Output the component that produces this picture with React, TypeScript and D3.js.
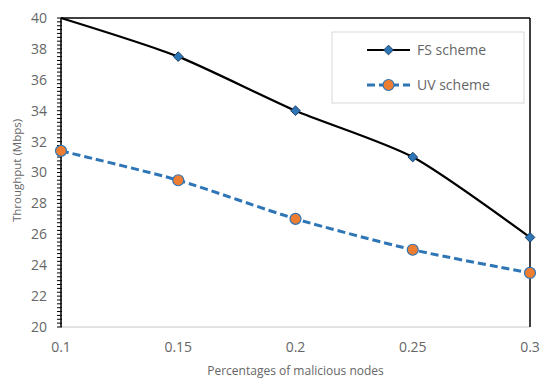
import { useEffect, useRef } from "react";
import * as d3 from "d3";

const xValues = [0.1, 0.15, 0.2, 0.25, 0.3];
const fsValues = [40, 37.5, 34, 31, 25.8];
const uvValues = [31.4, 29.5, 27, 25, 23.5];
const yTicks = [20, 22, 24, 26, 28, 30, 32, 34, 36, 38, 40];
const xTickLabels = ["0.1", "0.15", "0.2", "0.25", "0.3"];
const seriesNames = ["FS scheme", "UV scheme"];

const FONT = "'Open Sans', 'Liberation Sans', sans-serif";
const GRAY = "#666666";
const BLUE = "#2E75B6";
const ORANGE = "#ED7D31";

export default function App() {
  const svgRef = useRef<SVGSVGElement | null>(null);

  useEffect(() => {
    if (!svgRef.current) return;
    const width = 550;
    const height = 388;
    const margin = { top: 18, right: 20, bottom: 61, left: 61 };
    const w = width - margin.left - margin.right;
    const h = height - margin.top - margin.bottom;

    const svg = d3.select(svgRef.current);
    svg.selectAll("*").remove();
    svg.attr("width", width).attr("height", height);
    svg.append("rect").attr("width", width).attr("height", height).attr("fill", "#fff");

    const g = svg.append("g").attr("transform", `translate(${margin.left},${margin.top})`);

    const x = d3.scaleLinear().domain([0.1, 0.3]).range([0, w]);
    const y = d3.scaleLinear().domain([20, 40]).range([h, 0]);

    // frame: gray bottom, black top/right
    g.append("line").attr("x1", 0).attr("x2", w).attr("y1", h).attr("y2", h)
      .attr("stroke", "#d9d9d9").attr("stroke-width", 1.5);
    g.append("line").attr("x1", 0).attr("x2", w).attr("y1", 0).attr("y2", 0)
      .attr("stroke", "#000").attr("stroke-width", 1.5);
    g.append("line").attr("x1", w).attr("x2", w).attr("y1", 0).attr("y2", h)
      .attr("stroke", "#000").attr("stroke-width", 1.5);

    // left axis with minor ticks
    const minor = d3.range(20, 40.001, 0.25);
    g.append("g").selectAll("line").data(minor).enter().append("line")
      .attr("x1", -4).attr("x2", 1)
      .attr("y1", d => y(d)).attr("y2", d => y(d))
      .attr("stroke", "#000").attr("stroke-width", 1);
    g.append("line").attr("x1", 0).attr("x2", 0).attr("y1", 0).attr("y2", h)
      .attr("stroke", "#000").attr("stroke-width", 1.5);

    g.append("g").selectAll("text").data(yTicks).enter().append("text")
      .attr("x", -14).attr("y", d => y(d)).attr("dy", "0.35em")
      .attr("text-anchor", "end").attr("font-family", FONT).attr("font-size", 14)
      .attr("fill", GRAY).text(d => String(d));

    g.append("g").selectAll("text").data(xValues).enter().append("text")
      .attr("x", d => x(d)).attr("y", h + 25)
      .attr("text-anchor", "middle").attr("font-family", FONT).attr("font-size", 14)
      .attr("fill", GRAY).text((_, i) => xTickLabels[i]);

    svg.append("text")
      .attr("x", margin.left + w / 2).attr("y", 375)
      .attr("text-anchor", "middle").attr("font-family", FONT).attr("font-size", 12)
      .attr("fill", GRAY).text("Percentages of malicious nodes");

    svg.append("text")
      .attr("transform", `translate(21,${margin.top + h / 2 - 2}) rotate(-90)`)
      .attr("text-anchor", "middle").attr("font-family", FONT).attr("font-size", 11.5)
      .attr("fill", GRAY).text("Throughput (Mbps)");

    const line = d3.line<number>()
      .x((_, i) => x(xValues[i]))
      .y(d => y(d))
      .curve(d3.curveCardinal.tension(0.3));

    g.append("path").datum(uvValues).attr("d", line).attr("fill", "none")
      .attr("stroke", BLUE).attr("stroke-width", 3).attr("stroke-dasharray", "8,4");
    g.append("path").datum(fsValues).attr("d", line).attr("fill", "none")
      .attr("stroke", "#000").attr("stroke-width", 2.2);

    const diamond = d3.symbol().type(d3.symbolDiamond2).size(60);

    g.append("g").selectAll("path").data(fsValues.map((v, i) => ({ v, xv: xValues[i] })).filter(d => d.v < 40))
      .enter().append("path")
      .attr("d", diamond)
      .attr("transform", d => `translate(${x(d.xv)},${y(d.v)})`)
      .attr("fill", BLUE).attr("stroke", "#1f3f66").attr("stroke-width", 1);

    g.append("g").selectAll("circle").data(uvValues).enter().append("circle")
      .attr("cx", (_, i) => x(xValues[i])).attr("cy", d => y(d)).attr("r", 5.5)
      .attr("fill", ORANGE).attr("stroke", BLUE).attr("stroke-width", 1.2);

    // legend
    const lg = svg.append("g");
    lg.append("rect").attr("x", 332).attr("y", 32).attr("width", 192).attr("height", 71)
      .attr("fill", "#fff").attr("stroke", "#d9d9d9").attr("stroke-width", 1);

    const rows = [50, 85];
    lg.append("line").attr("x1", 367).attr("x2", 410).attr("y1", rows[0]).attr("y2", rows[0])
      .attr("stroke", "#000").attr("stroke-width", 2.2);
    lg.append("path").attr("d", diamond).attr("transform", `translate(388.5,${rows[0]})`)
      .attr("fill", BLUE).attr("stroke", "#1f3f66").attr("stroke-width", 1);
    lg.append("line").attr("x1", 367).attr("x2", 410).attr("y1", rows[1]).attr("y2", rows[1])
      .attr("stroke", BLUE).attr("stroke-width", 3).attr("stroke-dasharray", "8,4");
    lg.append("circle").attr("cx", 388.5).attr("cy", rows[1]).attr("r", 5.5)
      .attr("fill", ORANGE).attr("stroke", BLUE).attr("stroke-width", 1.2);

    lg.selectAll("text.lbl").data(seriesNames).enter().append("text")
      .attr("class", "lbl")
      .attr("x", 417).attr("y", (_, i) => rows[i]).attr("dy", "0.35em")
      .attr("font-family", FONT).attr("font-size", 14).attr("fill", GRAY)
      .text(d => d);
  }, []);

  return (
    <div style={{ position: "absolute", left: 0, top: 0 }}>
      <svg ref={svgRef} style={{ display: "block" }} />
    </div>
  );
}
